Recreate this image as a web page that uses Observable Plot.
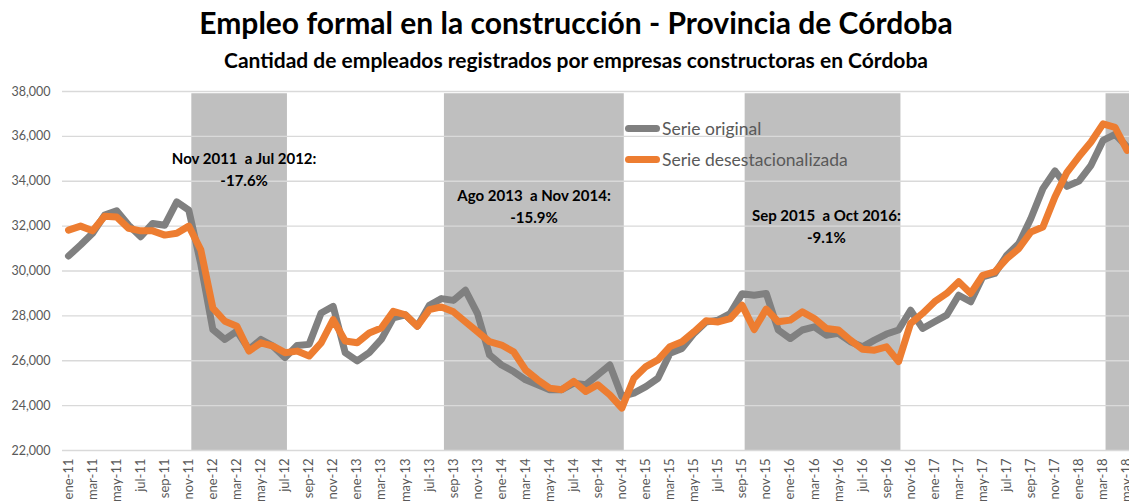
<!DOCTYPE html>
<html>
<head>
<meta charset="utf-8">
<script src="https://cdn.jsdelivr.net/npm/d3@7"></script>
<script src="https://cdn.jsdelivr.net/npm/@observablehq/plot@0.6"></script>
<style>
  html, body { margin: 0; padding: 0; background: #fff; width: 1129px; height: 501px; overflow: hidden; font-family: Lato, "Open Sans", sans-serif; }
  #wrap { position: relative; width: 1129px; height: 501px; }
  #title { position: absolute; left: 0; width: 1152px; top: 5px; text-align: center; font-weight: 700; font-size: 30px; line-height: 34px; color: #000; }
  #subtitle { position: absolute; left: 0; width: 1152px; top: 48px; text-align: center; font-weight: 700; font-size: 21px; line-height: 24px; color: #000; }
  #chart { position: absolute; left: 0; top: 80px; }
  .leg { position: absolute; display: flex; align-items: center; font-size: 17.5px; color: #595959; }
  .sw { width: 35px; height: 7px; border-radius: 4px; margin-right: 2px; }
</style>
</head>
<body>
<div id="wrap">
  <div id="title">Empleo formal en la construcción - Provincia de Córdoba</div>
  <div id="subtitle">Cantidad de empleados registrados por empresas constructoras en Córdoba</div>
  <div id="chart"></div>
  <div class="leg" style="left:625px; top:118px;"><div class="sw" style="background:#808080"></div>Serie original</div>
  <div class="leg" style="left:625px; top:149px;"><div class="sw" style="background:#ed7d31"></div>Serie desestacionalizada</div>
</div>
<script>
const monthNames = ["ene","feb","mar","abr","may","jun","jul","ago","sep","oct","nov","dic"];
const years = ["11","12","13","14","15","16","17","18"];

const original = [30670,31160,31680,32490,32680,32040,31530,32120,32040,33080,32710,30300,
  27390,26950,27320,26500,26950,26650,26140,26680,26730,28130,28420,26360,
  25990,26360,26950,27910,28050,27540,28470,28770,28690,29140,28100,26260,
  25810,25520,25150,24930,24710,24710,25000,24930,25370,25810,24410,24560,
  24850,25220,26330,26550,27220,27730,27810,28100,28990,28920,29000,27370,
  26990,27370,27510,27140,27220,26850,26620,26920,27190,27370,28250,27440,
  27740,28030,28920,28630,29740,29890,30700,31220,32340,33670,34460,33770,
  34010,34710,35820,36090,35530];

const desestacionalizada = [31820,32000,31790,32440,32410,31900,31790,31790,31600,31680,32000,30940,
  28350,27760,27540,26430,26800,26650,26360,26430,26210,26800,27830,26880,
  26800,27240,27460,28200,28050,27540,28280,28400,28180,27730,27290,26850,
  26700,26400,25590,25150,24780,24710,25080,24630,24930,24480,23890,25220,
  25740,26040,26630,26850,27290,27780,27730,27880,28470,27390,28300,27740,
  27810,28180,27880,27440,27370,26920,26510,26470,26620,25960,27660,28110,
  28630,29000,29520,29000,29810,29960,30550,31000,31740,31960,33300,34400,
  35100,35750,36560,36400,35380];

// month labels "ene-11" ...
const labels = [];
for (const y of years) for (const m of monthNames) labels.push(m + "-" + y);

// recession bands (month index start / end)
const bandStart = [10, 31, 56, 86];
const bandEnd = [18, 46, 69, 92];
const bandTop = 37900;

const annotations = [
  {text: "Nov 2011  a Jul 2012:\n-17.6%", x: 14.6, y: 34590},
  {text: "Ago 2013  a Nov 2014:\n-15.9%", x: 38.7, y: 32940},
  {text: "Sep 2015  a Oct 2016:\n-9.1%", x: 63.0, y: 32050}
];

const yTicks = d3.range(22000, 38001, 2000);
const xTicks = d3.range(0, original.length, 2);

const rows = original.map((v, i) => ({i, original: v, desest: desestacionalizada[i]}));
const bands = bandStart.map((s, k) => ({x1: s + 0.25, x2: bandEnd[k] + 0.2}));

const chart = Plot.plot({
  width: 1129,
  height: 421,
  marginLeft: 62,
  marginRight: 0,
  marginTop: 11,
  marginBottom: 51,
  style: {fontFamily: "Lato, 'Open Sans', sans-serif", color: "#595959", background: "#fff", overflow: "visible"},
  x: {type: "linear", domain: [-0.5, 88.2]},
  y: {domain: [22000, 38000]},
  marks: [
    Plot.rect(bands, {x1: "x1", x2: "x2", y1: 22000, y2: bandTop, fill: "#bfbfbf", clip: true}),
    Plot.ruleY(yTicks, {stroke: "#d9d9d9", strokeWidth: 1.3}),
    Plot.axisY(yTicks, {tickFormat: d3.format(","), tickSize: 0, tickPadding: 12, fontSize: 12.5, label: null}),
    Plot.axisX(xTicks, {tickFormat: i => labels[i], tickSize: 0, tickPadding: 8, tickRotate: -90, fontSize: 13, label: null}),
    Plot.line(rows, {x: "i", y: "original", stroke: "#808080", strokeWidth: 7, strokeLinejoin: "round", strokeLinecap: "round", clip: true}),
    Plot.line(rows, {x: "i", y: "desest", stroke: "#ed7d31", strokeWidth: 7, strokeLinejoin: "round", strokeLinecap: "round", clip: true}),
    Plot.text(annotations, {x: "x", y: "y", text: "text", fill: "#000", fontWeight: "bold", fontSize: 15, lineHeight: 1.45})
  ]
});
document.getElementById("chart").appendChild(chart);
</script>
</body>
</html>
